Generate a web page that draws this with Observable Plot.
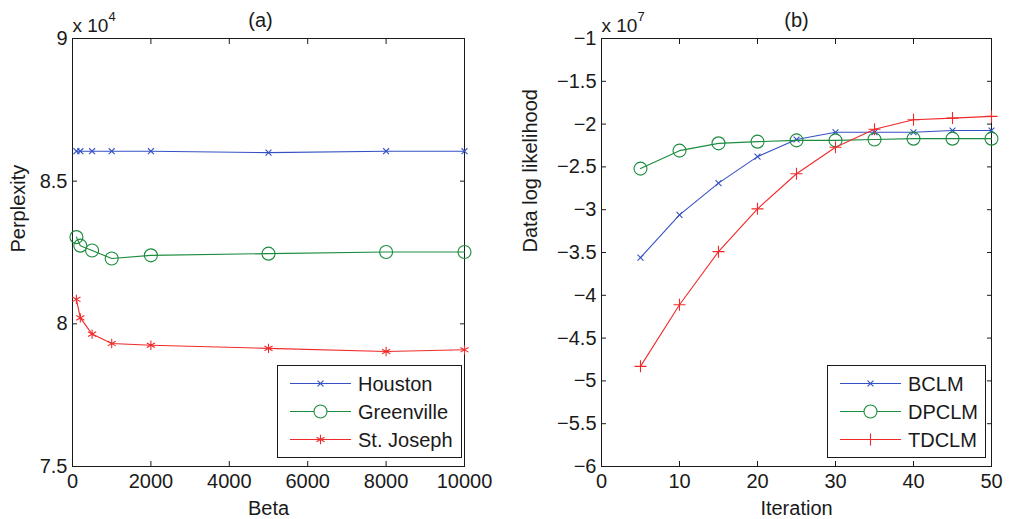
<!DOCTYPE html>
<html>
<head>
<meta charset="utf-8">
<script src="https://cdn.jsdelivr.net/npm/d3@7"></script>
<script src="https://cdn.jsdelivr.net/npm/@observablehq/plot@0.6"></script>
<style>
  html, body { margin: 0; padding: 0; background: #fff; }
  #wrap { position: relative; width: 1009px; height: 519px; overflow: hidden; background: #fff;
          font-family: "Liberation Sans", Arial, Helvetica, sans-serif; }
  #wrap > svg { position: absolute; top: 0; }
</style>
</head>
<body>
<div id="wrap"></div>
<script>
// ---------- Panel (a): Perplexity vs Beta ----------
const betaValues = [100, 200, 500, 1000, 2000, 5000, 8000, 10000];
const houston    = [86050, 86050, 86050, 86050, 86050, 86000, 86050, 86050];
const greenville = [83040, 82740, 82570, 82290, 82400, 82460, 82520, 82520];
const stJoseph   = [80860, 80210, 79640, 79310, 79250, 79140, 79030, 79090];
const cityNames  = ["Houston", "Greenville", "St. Joseph"];
const betaTicks  = [0, 2000, 4000, 6000, 8000, 10000];
const perplexityTicks = [75000, 80000, 85000, 90000];

// ---------- Panel (b): Data log likelihood vs Iteration ----------
const iterations = [5, 10, 15, 20, 25, 30, 35, 40, 45, 50];
const bclm  = [-3.56e7, -3.06e7, -2.69e7, -2.38e7, -2.18e7, -2.095e7, -2.095e7, -2.095e7, -2.075e7, -2.075e7];
const dpclm = [-2.52e7, -2.31e7, -2.225e7, -2.205e7, -2.19e7, -2.19e7, -2.18e7, -2.17e7, -2.17e7, -2.17e7];
const tdclm = [-4.83e7, -4.11e7, -3.49e7, -2.99e7, -2.58e7, -2.27e7, -2.06e7, -1.95e7, -1.93e7, -1.91e7];
const modelNames = ["BCLM", "DPCLM", "TDCLM"];
const iterationTicks = [0, 10, 20, 30, 40, 50];
const likelihoodTicks = [-6e7, -5.5e7, -5e7, -4.5e7, -4e7, -3.5e7, -3e7, -2.5e7, -2e7, -1.5e7, -1e7];

// ---------- styles ----------
const FONT = '"Liberation Sans", Arial, Helvetica, sans-serif';
const INK = "#1a1a1a";
const FS = 20;
const styleA = [
  {color: "#3552c4", symbol: "times", r: 2.8},
  {color: "#1b8c3e", symbol: "circle", r: 6.5},
  {color: "#f02a2a", symbol: "asterisk", r: 4.4}
];
const styleB = [
  {color: "#3552c4", symbol: "times", r: 2.8},
  {color: "#1b8c3e", symbol: "circle", r: 6.5},
  {color: "#f02a2a", symbol: "plus", r: 3.95}
];
const minus = s => s.replace(/-/g, "\u2212");

function panel(o) {
  const marks = [
    Plot.frame({stroke: INK, strokeWidth: 1}),
    Plot.axisX(o.xTicks, {anchor: "bottom", tickSize: -5, tickPadding: 12.5, stroke: INK, fill: INK,
      fontSize: FS, label: null, tickFormat: d => String(d)}),
    Plot.axisX(o.xTicks, {anchor: "top", tickSize: -5, stroke: INK, label: null, tickFormat: () => ""}),
    Plot.axisY(o.yTicks, {anchor: "left", tickSize: -5, tickPadding: 10, stroke: INK, fill: INK,
      fontSize: FS, label: null, tickFormat: d => minus(String(+(d / o.scale).toFixed(2)))}),
    Plot.axisY(o.yTicks, {anchor: "right", tickSize: -5, stroke: INK, label: null, tickFormat: () => ""})
  ];
  o.series.forEach((vals, k) => {
    const st = o.styles[k];
    const rows = o.xs.map((x, i) => ({x, y: vals[i], name: o.names[k]}));
    marks.push(Plot.line(rows, {x: "x", y: "y", stroke: st.color, strokeWidth: 1.1}));
    marks.push(Plot.dot(rows, {x: "x", y: "y", symbol: st.symbol, r: st.r, stroke: st.color, fill: "none", strokeWidth: 1.1}));
  });
  marks.push(
    Plot.text([o.title], {text: d => d, frameAnchor: "top", dy: -26, dx: o.titleDx, fontSize: FS, fill: INK}),
    Plot.text([o.xLabel], {text: d => d, frameAnchor: "bottom", dy: 48, fontSize: FS, fill: INK}),
    Plot.text([o.yLabel], {text: d => d, frameAnchor: "left", dx: -o.yLabelOffset, rotate: -90, fontSize: FS, fill: INK}),
    Plot.text(["x 10"], {text: d => d, frameAnchor: "top-left", textAnchor: "start", dy: -20, dx: 0, fontSize: 19, fill: INK}),
    Plot.text([o.exponent], {text: d => d, frameAnchor: "top-left", textAnchor: "start", dy: -27, dx: 36, fontSize: 13, fill: INK})
  );
  return Plot.plot({
    width: o.width, height: 519,
    marginLeft: o.marginLeft, marginRight: o.marginRight, marginTop: 38, marginBottom: 53,
    x: {domain: o.xDomain},
    y: {domain: o.yDomain},
    style: {fontFamily: FONT, fontSize: FS + "px", color: INK, background: "transparent", overflow: "visible"},
    marks
  });
}

function legend(names, styles, box) {
  const svg = d3.create("svg")
    .attr("width", 1009).attr("height", 519)
    .style("position", "absolute").style("left", "0px").style("top", "0px")
    .style("font-family", FONT);
  svg.append("rect").attr("x", box.x + 0.5).attr("y", box.y + 0.5)
    .attr("width", box.w).attr("height", box.h).attr("fill", "#fff").attr("stroke", INK);
  const symMap = {times: d3.symbolTimes, circle: d3.symbolCircle, asterisk: d3.symbolAsterisk, plus: d3.symbolPlus};
  names.forEach((name, i) => {
    const st = styles[i];
    const cy = box.y + 18.5 + i * 28;
    const x0 = box.x + 13, x1 = box.x + 74, xm = (x0 + x1) / 2;
    svg.append("line").attr("x1", x0).attr("x2", x1).attr("y1", cy).attr("y2", cy)
      .attr("stroke", st.color).attr("stroke-width", 1.1);
    svg.append("path").attr("transform", `translate(${xm},${cy})`)
      .attr("d", d3.symbol(symMap[st.symbol], Math.PI * st.r * st.r)())
      .attr("fill", st.symbol === "circle" ? "#fff" : "none")
      .attr("stroke", st.color).attr("stroke-width", 1.1);
    svg.append("text").attr("x", box.x + 81).attr("y", cy + 7)
      .attr("font-size", FS).attr("fill", INK).text(name);
  });
  return svg.node();
}

const wrap = document.getElementById("wrap");

const a = panel({
  width: 500, marginLeft: 72, marginRight: 36,
  xs: betaValues, series: [houston, greenville, stJoseph], names: cityNames, styles: styleA,
  xDomain: [0, 10000], yDomain: [75000, 90000], xTicks: betaTicks, yTicks: perplexityTicks,
  scale: 1e4, exponent: "4", title: "(a)", titleDx: -8,
  xLabel: "Beta", yLabel: "Perplexity", yLabelOffset: 54
});
a.style.left = "0px";
wrap.appendChild(a);

const b = panel({
  width: 509, marginLeft: 101, marginRight: 18,
  xs: iterations, series: [bclm, dpclm, tdclm], names: modelNames, styles: styleB,
  xDomain: [0, 50], yDomain: [-6e7, -1e7], xTicks: iterationTicks, yTicks: likelihoodTicks,
  scale: 1e7, exponent: "7", title: "(b)", titleDx: 0,
  xLabel: "Iteration", yLabel: "Data log likelihood", yLabelOffset: 71
});
b.style.left = "500px";
wrap.appendChild(b);

wrap.appendChild(legend(cityNames, styleA, {x: 277, y: 365, w: 184, h: 92}));
wrap.appendChild(legend(modelNames, styleB, {x: 827, y: 365, w: 158, h: 92}));
</script>
</body>
</html>
